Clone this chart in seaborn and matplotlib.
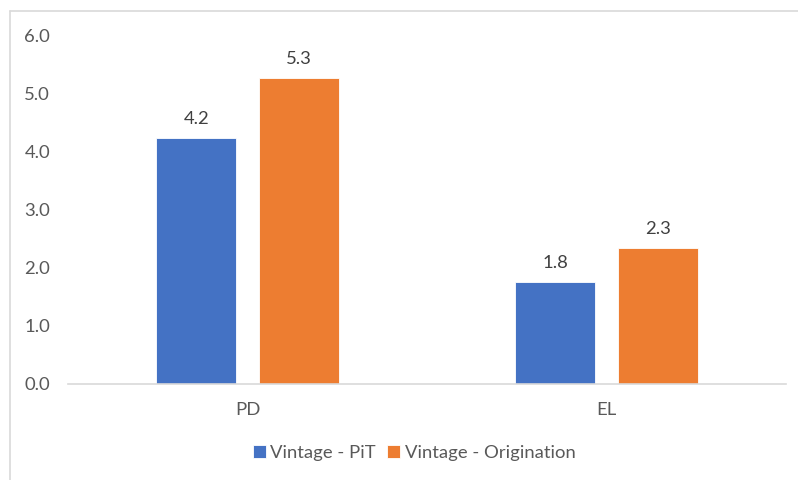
import matplotlib
matplotlib.use('Agg')
import matplotlib.pyplot as plt
import matplotlib.lines as mlines
import seaborn as sns
import pandas as pd

categories = ['PD', 'EL']
series = ['Vintage - PiT', 'Vintage - Origination']
pit_values = [4.23, 1.76]
orig_values = [5.26, 2.33]
colors = ['#4472C4', '#ED7D31']

sns.set_style('white')
plt.rcParams['font.family'] = ['Lato', 'DejaVu Sans']

df = pd.DataFrame({
    'category': categories * 2,
    'series': [series[0]] * 2 + [series[1]] * 2,
    'value': pit_values + orig_values,
})

fig = plt.figure(figsize=(7.98, 4.8), dpi=100)
ax = fig.add_axes([68 / 798, 0.2, (786 - 68) / 798, 0.927 - 0.2])

sns.barplot(data=df, x='category', y='value', hue='series', palette=colors,
            width=0.57, gap=0.22, ax=ax, errorbar=None, saturation=1,
            edgecolor='white', linewidth=0.6)

fs = 13.3
text_col = '#595959'
for cont in ax.containers:
    ax.bar_label(cont, fmt='%.1f', padding=8, fontsize=fs, color='#404040')

ax.set_ylim(0, 6)
ax.set_xlim(-0.5, 1.5)
ax.set_yticks(range(0, 7))
ax.set_yticklabels([f'{v:.1f}' for v in range(0, 7)])
ax.tick_params(axis='y', length=0, pad=13, labelsize=fs, labelcolor=text_col)
ax.tick_params(axis='x', length=0, pad=13, labelsize=fs, labelcolor=text_col)
ax.set_xlabel('')
ax.set_ylabel('')
for s in ['top', 'right', 'left']:
    ax.spines[s].set_visible(False)
ax.spines['bottom'].set_color('#d9d9d9')
ax.spines['bottom'].set_linewidth(1.2)

ax.legend(loc='center', bbox_to_anchor=(414 / 798, 1 - 453 / 480),
          bbox_transform=fig.transFigure, ncol=2, frameon=False,
          handlelength=0.7, handleheight=0.7, handletextpad=0.25,
          columnspacing=0.6, fontsize=fs, labelcolor=text_col)

# chart frame (only top and left edges visible in the crop)
fig.add_artist(mlines.Line2D([10 / 798, 1], [1 - 11 / 480, 1 - 11 / 480],
                             transform=fig.transFigure, color='#d9d9d9', lw=1.2))
fig.add_artist(mlines.Line2D([10 / 798, 10 / 798], [0, 1 - 11 / 480],
                             transform=fig.transFigure, color='#d9d9d9', lw=1.2))

fig.savefig('out.png', dpi=100, facecolor='white')
